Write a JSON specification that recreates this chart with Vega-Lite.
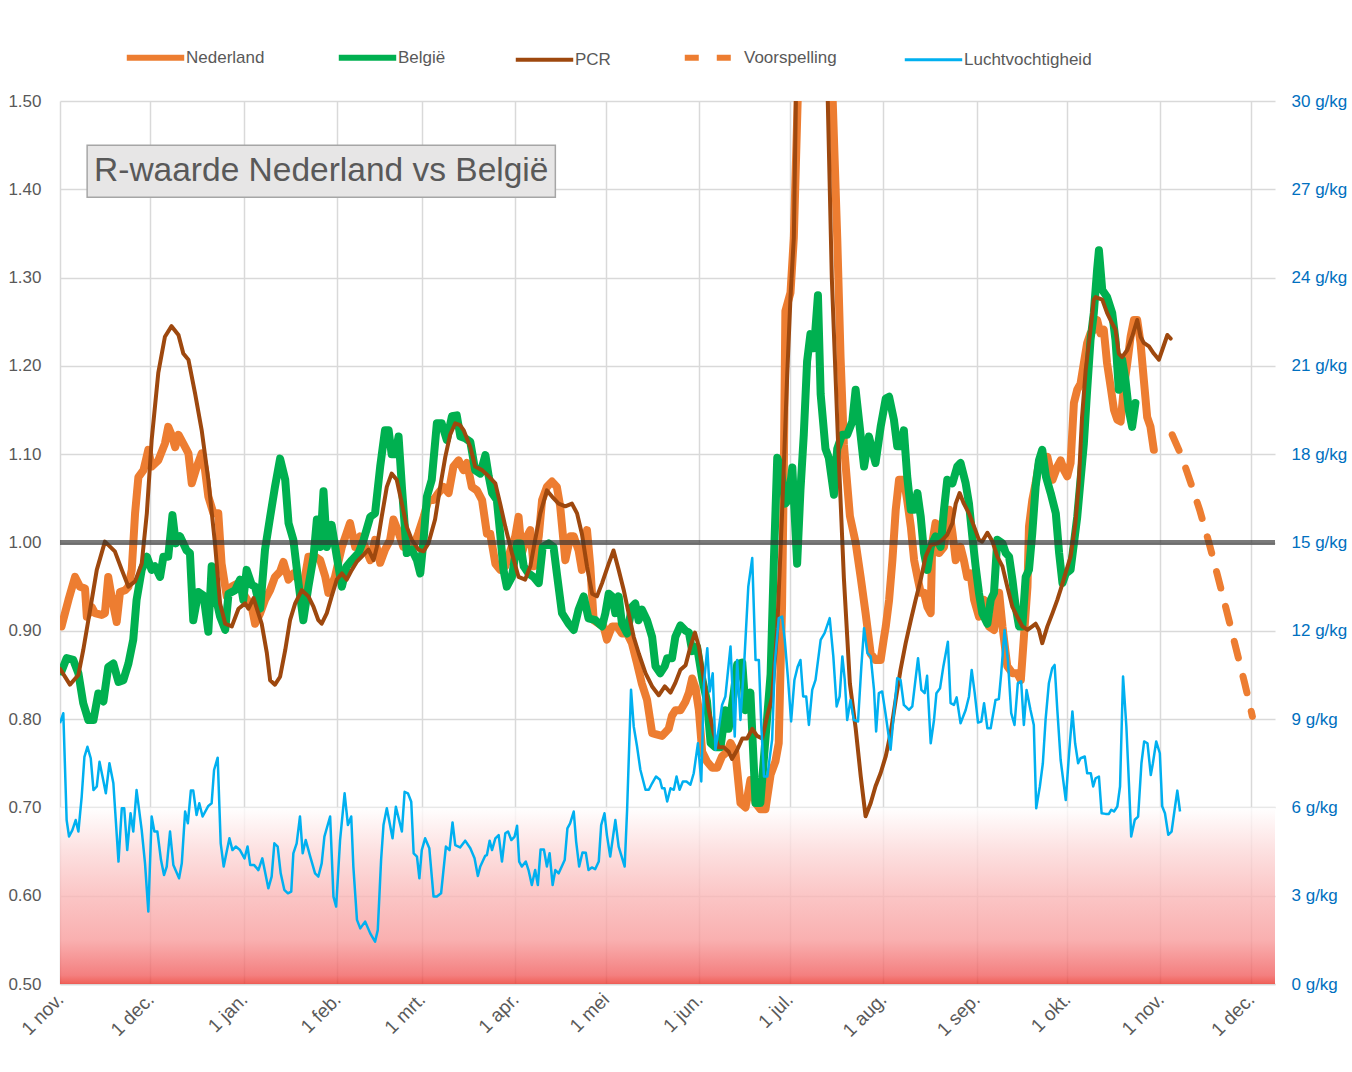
{
  "$schema": "https://vega.github.io/schema/vega-lite/v6.json",
  "width": 1215,
  "height": 883,
  "autosize": {"type": "none"},
  "padding": {"left": 60, "top": 101, "right": 77, "bottom": 88},
  "background": "white",
  "config": {"font": "Liberation Sans", "view": {"stroke": null}},
  "datasets": {
    "band": [{"x0": 0, "x1": 403, "y0": 0.5, "y1": 0.7}],
    "box": [{"x0": 9, "x1": 164.3, "y0": 1.391, "y1": 1.45, "xm": 86.65, "ym": 1.4205, "titel": "R-waarde Nederland vs België"}],
    "ref": [{"r": 1.0}],
    "nl": [
      {"dag":0.5,"r":0.905},{"dag":2.8,"r":0.935},{"dag":5,"r":0.961},{"dag":6.6,"r":0.95},{"dag":8.3,"r":0.948},{"dag":8.9,"r":0.916},{"dag":10.5,"r":0.927},{"dag":11.6,"r":0.92},{"dag":13.8,"r":0.918},{"dag":14.9,"r":0.92},{"dag":16,"r":0.961},{"dag":17.1,"r":0.939},{"dag":18.8,"r":0.91},{"dag":19.9,"r":0.944},{"dag":21.6,"r":0.946},{"dag":22.7,"r":0.95},{"dag":23.8,"r":0.969},{"dag":24.9,"r":1.033},{"dag":26,"r":1.074},{"dag":27.7,"r":1.082},{"dag":29.3,"r":1.105},{"dag":30.4,"r":1.086},{"dag":32.6,"r":1.093},{"dag":34.8,"r":1.112},{"dag":35.9,"r":1.131},{"dag":37,"r":1.122},{"dag":38.2,"r":1.108},{"dag":39.3,"r":1.122},{"dag":40.9,"r":1.112},{"dag":42.6,"r":1.101},{"dag":43.7,"r":1.067},{"dag":45.4,"r":1.086},{"dag":47,"r":1.101},{"dag":48.1,"r":1.082},{"dag":49.2,"r":1.052},{"dag":50.9,"r":1.033},{"dag":52.5,"r":1.033},{"dag":53.6,"r":0.976},{"dag":55.3,"r":0.939},{"dag":57,"r":0.95},{"dag":59.2,"r":0.954},{"dag":61.4,"r":0.939},{"dag":63.6,"r":0.927},
      {"dag":64.7,"r":0.908},{"dag":66.4,"r":0.92},{"dag":68,"r":0.935},{"dag":69.7,"r":0.946},{"dag":71.3,"r":0.961},{"dag":73,"r":0.967},{"dag":74.1,"r":0.978},{"dag":75.8,"r":0.958},{"dag":77.4,"r":0.965},{"dag":79.1,"r":0.958},{"dag":80.7,"r":0.95},{"dag":82.4,"r":0.984},{"dag":84.6,"r":0.984},{"dag":86.3,"r":0.98},{"dag":88,"r":0.961},{"dag":89,"r":0.943},{"dag":91.2,"r":0.961},{"dag":93.5,"r":0.995},{"dag":95.1,"r":1.011},{"dag":96.2,"r":1.022},{"dag":97.9,"r":0.995},{"dag":99.5,"r":1.007},{"dag":101.2,"r":0.995},{"dag":102.9,"r":0.98},{"dag":104.5,"r":1.003},{"dag":106.2,"r":0.977},{"dag":107.8,"r":0.992},{"dag":109.5,"r":1.003},{"dag":110.6,"r":1.026},{"dag":112.3,"r":1.011},{"dag":113.9,"r":0.995},{"dag":115.6,"r":1.003},{"dag":117.2,"r":0.995},{"dag":118.9,"r":1.011},{"dag":120.6,"r":1.029},{"dag":122.2,"r":1.048},{"dag":123.9,"r":1.048},{"dag":125.5,"r":1.056},{"dag":127.2,"r":1.063},{"dag":128.9,"r":1.056},{"dag":130.5,"r":1.086},{"dag":132.2,"r":1.093},{"dag":133.8,"r":1.082},
      {"dag":135,"r":1.09},{"dag":136.6,"r":1.063},{"dag":138.3,"r":1.059},{"dag":140,"r":1.048},{"dag":141.6,"r":1.01},{"dag":142.7,"r":1.01},{"dag":144.4,"r":0.976},{"dag":146,"r":0.969},{"dag":147.7,"r":0.973},{"dag":149.4,"r":0.991},{"dag":151,"r":1.007},{"dag":152.1,"r":1.029},{"dag":153.2,"r":0.988},{"dag":154.9,"r":1.007},{"dag":156,"r":1.014},{"dag":157.1,"r":0.973},{"dag":158.8,"r":1.007},{"dag":159.9,"r":1.048},{"dag":161.5,"r":1.063},{"dag":163.2,"r":1.069},{"dag":164.8,"r":1.063},{"dag":165.9,"r":1.041},{"dag":167.6,"r":0.98},{"dag":169.3,"r":1.007},{"dag":170.4,"r":1.007},{"dag":172,"r":0.991},{"dag":173.1,"r":0.969},{"dag":174.8,"r":1.014},{"dag":175.9,"r":0.973},{"dag":177,"r":0.912},{"dag":178.7,"r":0.908},{"dag":180.3,"r":0.905},{"dag":181.4,"r":0.89},{"dag":183.1,"r":0.905},{"dag":184.8,"r":0.905},{"dag":186.4,"r":0.897},{"dag":188.1,"r":0.897},{"dag":189.7,"r":0.886},{"dag":191.4,"r":0.863},{"dag":193,"r":0.84},{"dag":194.7,"r":0.822},{"dag":196.4,"r":0.784},
      {"dag":197.5,"r":0.783},{"dag":199.7,"r":0.781},{"dag":201.9,"r":0.789},{"dag":203,"r":0.804},{"dag":204.1,"r":0.81},{"dag":205.8,"r":0.81},{"dag":207.5,"r":0.82},{"dag":208.6,"r":0.83},{"dag":209.7,"r":0.846},{"dag":210.8,"r":0.835},{"dag":211.9,"r":0.81},{"dag":213,"r":0.763},{"dag":214.6,"r":0.752},{"dag":216.3,"r":0.745},{"dag":218,"r":0.745},{"dag":219.6,"r":0.758},{"dag":221.3,"r":0.763},{"dag":222.4,"r":0.773},{"dag":224,"r":0.763},{"dag":225.7,"r":0.705},{"dag":227.4,"r":0.7},{"dag":229,"r":0.731},{"dag":230.7,"r":0.705},{"dag":232.3,"r":0.698},{"dag":234,"r":0.698},{"dag":235.7,"r":0.737},{"dag":237.3,"r":0.752},{"dag":238.4,"r":0.773},{"dag":239.5,"r":0.929},{"dag":240.1,"r":1.085},{"dag":240.6,"r":1.262},{"dag":242.3,"r":1.283},{"dag":243.4,"r":1.345},{"dag":250,"r":2.15},{"dag":257.8,"r":1.345},{"dag":258.9,"r":1.21},{"dag":260,"r":1.111},{"dag":262,"r":1.03},{"dag":263.9,"r":1.0},{"dag":265.6,"r":0.96},{"dag":267.2,"r":0.92},{"dag":268.9,"r":0.874},{"dag":270.5,"r":0.867},{"dag":272.2,"r":0.867},{"dag":273.2,"r":0.89},{"dag":273.9,"r":0.905},{"dag":275,"r":0.935},{"dag":276.1,"r":0.98},{"dag":277.2,"r":1.037},{"dag":278.3,"r":1.071},{"dag":279.9,"r":1.071},{"dag":281,"r":1.048},{"dag":282.2,"r":1.018},{"dag":283.3,"r":0.98},{"dag":284.4,"r":0.961},{"dag":285.5,"r":0.943},{"dag":286.6,"r":0.943},{"dag":287.7,"r":0.927},{"dag":288.8,"r":0.92},{"dag":289.3,"r":0.999},{"dag":290.4,"r":1.022},{"dag":291.6,"r":0.988},{"dag":293.2,"r":0.995},{"dag":294.9,"r":1.037},{"dag":296,"r":1.011},{"dag":297.1,"r":0.98},{"dag":298.7,"r":0.995},{"dag":299.8,"r":0.98},{"dag":300.9,"r":0.961},{"dag":302,"r":0.965},{"dag":303.2,"r":0.935},{"dag":304.8,"r":0.916},{"dag":306.5,"r":0.935},{"dag":308.1,"r":0.905},{"dag":309.8,"r":0.901},{"dag":311.5,"r":0.943},{"dag":312.6,"r":0.905},{"dag":314.2,"r":0.86},{"dag":315.9,"r":0.852},{"dag":317.5,"r":0.852},{"dag":318.7,"r":0.844},{"dag":319.8,"r":0.897},{"dag":320.9,"r":0.95},{"dag":321.4,"r":1.018},{"dag":322.5,"r":1.048},{"dag":323.6,"r":1.067},{"dag":324.7,"r":1.09},{"dag":325.8,"r":1.093},{"dag":327.5,"r":1.097},{"dag":329.2,"r":1.071},{"dag":330.8,"r":1.086},{"dag":331.9,"r":1.093},{"dag":333,"r":1.082},{"dag":334.1,"r":1.075},{"dag":335.2,"r":1.09},{"dag":336.3,"r":1.158},{"dag":337.4,"r":1.173},{"dag":338.5,"r":1.18},{"dag":339.6,"r":1.203},{"dag":340.7,"r":1.226},{"dag":341.8,"r":1.237},{"dag":342.9,"r":1.241},{"dag":344,"r":1.252},{"dag":345.1,"r":1.237},{"dag":346.2,"r":1.241},{"dag":347.3,"r":1.203},{"dag":348.5,"r":1.176},{"dag":349.6,"r":1.15},{"dag":350.7,"r":1.139},{"dag":351.8,"r":1.137},{"dag":352.9,"r":1.176},{"dag":354,"r":1.203},{"dag":355.1,"r":1.233},{"dag":356.2,"r":1.252},{"dag":357.3,"r":1.252},{"dag":358.4,"r":1.226},{"dag":359.5,"r":1.184},{"dag":360.6,"r":1.142},{"dag":361.7,"r":1.131},{"dag":362.8,"r":1.105}
    ],
    "be": [
      {"dag":0.5,"r":0.854},{"dag":2.2,"r":0.869},{"dag":4.4,"r":0.867},{"dag":6.1,"r":0.852},{"dag":7.7,"r":0.818},{"dag":9.4,"r":0.799},{"dag":11.1,"r":0.799},{"dag":12.7,"r":0.829},{"dag":14.4,"r":0.82},{"dag":16,"r":0.859},{"dag":17.7,"r":0.863},{"dag":19.4,"r":0.842},{"dag":21,"r":0.844},{"dag":22.7,"r":0.863},{"dag":24.3,"r":0.89},{"dag":25.4,"r":0.935},{"dag":27.1,"r":0.969},{"dag":28.8,"r":0.984},{"dag":30.4,"r":0.969},{"dag":31.5,"r":0.973},{"dag":33.2,"r":0.961},{"dag":34.3,"r":0.984},{"dag":35.9,"r":0.984},{"dag":37.3,"r":1.031},{"dag":38.4,"r":0.999},{"dag":39.8,"r":1.007},{"dag":42,"r":0.991},{"dag":43.1,"r":0.988},{"dag":44.2,"r":0.912},{"dag":45.9,"r":0.944},{"dag":47.6,"r":0.94},{"dag":49.2,"r":0.899},{"dag":50.3,"r":0.973},{"dag":51.4,"r":0.942},{"dag":53.1,"r":0.916},{"dag":54.8,"r":0.901},{"dag":55.9,"r":0.942},{"dag":58.1,"r":0.946},{"dag":59.7,"r":0.958},{"dag":60.8,"r":0.935},{"dag":61.9,"r":0.969},{"dag":63.6,"r":0.952},
      {"dag":64.7,"r":0.95},{"dag":66.4,"r":0.925},{"dag":68,"r":0.992},{"dag":69.7,"r":1.029},{"dag":71.3,"r":1.063},{"dag":73,"r":1.095},{"dag":74.7,"r":1.071},{"dag":75.8,"r":1.022},{"dag":77.4,"r":1.003},{"dag":79.1,"r":0.954},{"dag":80.7,"r":0.912},{"dag":82.4,"r":0.95},{"dag":84.1,"r":0.984},{"dag":85.2,"r":1.026},{"dag":86.3,"r":0.995},{"dag":87.4,"r":1.058},{"dag":88.5,"r":0.995},{"dag":90.1,"r":1.02},{"dag":91.8,"r":0.984},{"dag":93.5,"r":0.95},{"dag":95.1,"r":0.973},{"dag":96.8,"r":0.98},{"dag":99,"r":0.988},{"dag":100.7,"r":1.003},{"dag":102.9,"r":1.029},{"dag":104.5,"r":1.033},{"dag":106.2,"r":1.086},{"dag":107.8,"r":1.127},{"dag":109,"r":1.127},{"dag":110,"r":1.1},{"dag":111.2,"r":1.1},{"dag":112.3,"r":1.12},{"dag":113.4,"r":1.063},{"dag":115,"r":0.988},{"dag":116.7,"r":0.992},{"dag":118.4,"r":0.98},{"dag":119.5,"r":0.965},{"dag":120.6,"r":1.003},{"dag":121.7,"r":1.052},{"dag":123.3,"r":1.071},{"dag":125,"r":1.135},{"dag":126.6,"r":1.135},{"dag":128.3,"r":1.116},{"dag":130,"r":1.143},{"dag":131.6,"r":1.144},
      {"dag":132.8,"r":1.12},{"dag":134.4,"r":1.118},{"dag":136.1,"r":1.114},{"dag":137.7,"r":1.082},{"dag":139.4,"r":1.078},{"dag":141.1,"r":1.099},{"dag":142.2,"r":1.075},{"dag":143.3,"r":1.056},{"dag":144.9,"r":1.048},{"dag":146,"r":1.01},{"dag":147.1,"r":0.969},{"dag":148.2,"r":0.95},{"dag":149.9,"r":0.961},{"dag":151.6,"r":0.999},{"dag":152.7,"r":0.999},{"dag":153.8,"r":0.973},{"dag":155.4,"r":0.965},{"dag":157.1,"r":0.961},{"dag":158.8,"r":0.954},{"dag":160.1,"r":0.995},{"dag":162.1,"r":0.999},{"dag":163.7,"r":0.995},{"dag":164.8,"r":0.965},{"dag":166.5,"r":0.92},{"dag":168.7,"r":0.908},{"dag":170.4,"r":0.901},{"dag":172,"r":0.924},{"dag":173.7,"r":0.939},{"dag":175.3,"r":0.914},{"dag":177.6,"r":0.912},{"dag":179.8,"r":0.905},{"dag":180.9,"r":0.92},{"dag":182,"r":0.942},{"dag":183.1,"r":0.939},{"dag":184.2,"r":0.92},{"dag":185.3,"r":0.939},{"dag":186.4,"r":0.908},{"dag":188.1,"r":0.897},{"dag":189.7,"r":0.927},{"dag":190.8,"r":0.931},{"dag":191.9,"r":0.912},{"dag":193,"r":0.924},{"dag":194.7,"r":0.912},{"dag":196.4,"r":0.893},
      {"dag":197.5,"r":0.86},{"dag":199.1,"r":0.852},{"dag":200.6,"r":0.86},{"dag":201.4,"r":0.869},{"dag":203,"r":0.869},{"dag":204.1,"r":0.893},{"dag":205.8,"r":0.906},{"dag":207.5,"r":0.9},{"dag":208.6,"r":0.898},{"dag":209.7,"r":0.877},{"dag":211.3,"r":0.882},{"dag":213,"r":0.846},{"dag":214.6,"r":0.82},{"dag":215.8,"r":0.773},{"dag":217.4,"r":0.768},{"dag":219.1,"r":0.768},{"dag":220.7,"r":0.81},{"dag":221.8,"r":0.789},{"dag":223.5,"r":0.83},{"dag":224.6,"r":0.862},{"dag":226.3,"r":0.864},{"dag":227.4,"r":0.81},{"dag":229,"r":0.83},{"dag":230.7,"r":0.705},{"dag":232.3,"r":0.705},{"dag":234,"r":0.778},{"dag":235.7,"r":0.851},{"dag":236.8,"r":0.981},{"dag":237.9,"r":1.096},{"dag":239,"r":1.085},{"dag":240.6,"r":1.044},{"dag":241.7,"r":1.049},{"dag":242.9,"r":1.085},{"dag":244.5,"r":0.976},{"dag":245.6,"r":1.059},{"dag":246.7,"r":1.122},{"dag":247.8,"r":1.205},{"dag":248.9,"r":1.236},{"dag":250.1,"r":1.22},{"dag":251.4,"r":1.28},{"dag":252.3,"r":1.168},{"dag":253.9,"r":1.106},{"dag":255,"r":1.096},{"dag":256.7,"r":1.054},{"dag":257.8,"r":1.106},{"dag":259.4,"r":1.122},{"dag":261.1,"r":1.122},{"dag":262.8,"r":1.137},{"dag":263.9,"r":1.173},
      {"dag":265.6,"r":1.12},{"dag":266.7,"r":1.086},{"dag":268.3,"r":1.12},{"dag":269.4,"r":1.105},{"dag":270.5,"r":1.09},{"dag":272.2,"r":1.131},{"dag":273.9,"r":1.163},{"dag":275,"r":1.165},{"dag":276.6,"r":1.139},{"dag":277.7,"r":1.109},{"dag":278.8,"r":1.109},{"dag":279.9,"r":1.127},{"dag":281,"r":1.075},{"dag":282.2,"r":1.037},{"dag":283.3,"r":1.037},{"dag":284.4,"r":1.056},{"dag":285.5,"r":1.029},{"dag":286.6,"r":0.988},{"dag":287.7,"r":0.969},{"dag":288.8,"r":0.995},{"dag":290.4,"r":1.007},{"dag":292.1,"r":0.995},{"dag":293.2,"r":1.037},{"dag":294.3,"r":1.071},{"dag":296,"r":1.067},{"dag":297.6,"r":1.086},{"dag":298.7,"r":1.09},{"dag":300.4,"r":1.067},{"dag":301.5,"r":1.044},{"dag":302.6,"r":1.007},{"dag":303.7,"r":0.973},{"dag":304.8,"r":0.943},{"dag":305.9,"r":0.92},{"dag":307.6,"r":0.908},{"dag":308.7,"r":0.935},{"dag":309.8,"r":0.943},{"dag":310.9,"r":1.003},{"dag":312.6,"r":0.999},{"dag":313.7,"r":0.988},{"dag":314.8,"r":0.984},{"dag":315.9,"r":0.958},{"dag":317,"r":0.927},{"dag":318.1,"r":0.905},{"dag":319.2,"r":0.905},{"dag":320.3,"r":0.961},{"dag":321.4,"r":0.969},{"dag":322.5,"r":1.011},{"dag":323.6,"r":1.063},{"dag":324.7,"r":1.093},{"dag":325.8,"r":1.105},{"dag":327,"r":1.075},{"dag":328.6,"r":1.056},{"dag":330.3,"r":1.033},{"dag":331.4,"r":0.988},{"dag":332.5,"r":0.954},{"dag":333.6,"r":0.965},{"dag":335.2,"r":0.969},{"dag":336.3,"r":0.999},{"dag":337.4,"r":1.029},{"dag":338.5,"r":1.071},{"dag":339.6,"r":1.112},{"dag":340.7,"r":1.173},{"dag":341.8,"r":1.229},{"dag":342.9,"r":1.26},{"dag":344,"r":1.309},{"dag":344.6,"r":1.331},{"dag":345.7,"r":1.286},{"dag":347.3,"r":1.278},{"dag":349,"r":1.26},{"dag":350.1,"r":1.229},{"dag":351.2,"r":1.173},{"dag":352.3,"r":1.207},{"dag":353.4,"r":1.184},{"dag":354.5,"r":1.15},{"dag":355.6,"r":1.131},{"dag":356.7,"r":1.158}
    ],
    "pcr": [
      {"dag":0,"r":0.857},{"dag":3.3,"r":0.839},{"dag":6.1,"r":0.85},{"dag":7.7,"r":0.878},{"dag":10,"r":0.924},{"dag":12.2,"r":0.969},{"dag":14.9,"r":1.001},{"dag":18.2,"r":0.99},{"dag":20.5,"r":0.969},{"dag":22.7,"r":0.95},{"dag":24.9,"r":0.956},{"dag":27.1,"r":0.976},{"dag":28.8,"r":1.033},{"dag":30.4,"r":1.116},{"dag":32.6,"r":1.192},{"dag":34.8,"r":1.233},{"dag":37,"r":1.245},{"dag":39.3,"r":1.235},{"dag":40.9,"r":1.214},{"dag":42.6,"r":1.207},{"dag":44.8,"r":1.169},{"dag":47,"r":1.127},{"dag":49.2,"r":1.071},{"dag":51.4,"r":0.999},{"dag":53.1,"r":0.931},{"dag":54.8,"r":0.908},{"dag":57,"r":0.905},{"dag":59.2,"r":0.925},{"dag":61.4,"r":0.931},{"dag":62.5,"r":0.925},{"dag":64.2,"r":0.937},
      {"dag":66.9,"r":0.908},{"dag":68.6,"r":0.875},{"dag":69.7,"r":0.844},{"dag":71.3,"r":0.839},{"dag":73,"r":0.848},{"dag":74.7,"r":0.878},{"dag":76.3,"r":0.912},{"dag":78,"r":0.931},{"dag":80.2,"r":0.946},{"dag":82.4,"r":0.939},{"dag":84.1,"r":0.927},{"dag":85.7,"r":0.912},{"dag":86.8,"r":0.908},{"dag":88.5,"r":0.92},{"dag":90.1,"r":0.939},{"dag":91.8,"r":0.958},{"dag":93.5,"r":0.965},{"dag":95.1,"r":0.958},{"dag":96.8,"r":0.969},{"dag":98.4,"r":0.978},{"dag":100.1,"r":0.984},{"dag":102.3,"r":0.992},{"dag":104,"r":0.98},{"dag":105.1,"r":0.995},{"dag":106.7,"r":1.029},{"dag":108.4,"r":1.063},{"dag":110,"r":1.078},{"dag":111.7,"r":1.071},{"dag":113.4,"r":1.044},{"dag":115,"r":1.018},{"dag":116.7,"r":1.003},{"dag":118.9,"r":0.992},{"dag":120.6,"r":0.99},{"dag":122.2,"r":0.999},{"dag":124.4,"r":1.026},{"dag":126.1,"r":1.063},{"dag":127.8,"r":1.097},{"dag":129.4,"r":1.122},{"dag":131.1,"r":1.135},{"dag":132.7,"r":1.133},
      {"dag":133.9,"r":1.127},{"dag":136.1,"r":1.108},{"dag":137.7,"r":1.086},{"dag":140,"r":1.082},{"dag":142.2,"r":1.075},{"dag":144.4,"r":1.067},{"dag":146,"r":1.044},{"dag":147.7,"r":1.018},{"dag":149.9,"r":0.988},{"dag":152.1,"r":0.961},{"dag":154.3,"r":0.958},{"dag":156,"r":0.973},{"dag":157.6,"r":1.003},{"dag":159.3,"r":1.033},{"dag":161.5,"r":1.059},{"dag":163.2,"r":1.052},{"dag":165.4,"r":1.044},{"dag":167.6,"r":1.041},{"dag":169.8,"r":1.044},{"dag":171.5,"r":1.033},{"dag":173.1,"r":1.01},{"dag":174.8,"r":0.973},{"dag":176.5,"r":0.942},{"dag":178.1,"r":0.939},{"dag":179.8,"r":0.954},{"dag":182,"r":0.976},{"dag":183.6,"r":0.991},{"dag":185.3,"r":0.969},{"dag":187,"r":0.946},{"dag":188.6,"r":0.92},{"dag":190.3,"r":0.893},{"dag":192,"r":0.874},{"dag":194.2,"r":0.852},{"dag":196.4,"r":0.837},{"dag":198.6,"r":0.827},{"dag":200.6,"r":0.837},
      {"dag":202.5,"r":0.83},{"dag":204.1,"r":0.841},{"dag":205.8,"r":0.856},{"dag":207.5,"r":0.861},{"dag":209.1,"r":0.882},{"dag":210.6,"r":0.898},{"dag":211.9,"r":0.882},{"dag":213.5,"r":0.846},{"dag":215.2,"r":0.81},{"dag":216.9,"r":0.783},{"dag":218.5,"r":0.768},{"dag":220.2,"r":0.768},{"dag":221.8,"r":0.763},{"dag":222.9,"r":0.755},{"dag":224.6,"r":0.765},{"dag":226.3,"r":0.778},{"dag":227.9,"r":0.778},{"dag":229.6,"r":0.789},{"dag":231.2,"r":0.781},{"dag":232.9,"r":0.778},{"dag":234.6,"r":0.804},{"dag":236.2,"r":0.825},{"dag":237.9,"r":0.903},{"dag":239.5,"r":1.033},{"dag":241.2,"r":1.189},{"dag":242.3,"r":1.278},{"dag":243.4,"r":1.345},{"dag":248.3,"r":2.45},{"dag":256,"r":1.3},{"dag":258,"r":1.12},{"dag":260,"r":0.96},{"dag":262,"r":0.84},{"dag":263.9,"r":0.79},{"dag":265.6,"r":0.735},{"dag":267.2,"r":0.69},{"dag":268.9,"r":0.705},{"dag":270.5,"r":0.724},{"dag":272.2,"r":0.739},{"dag":273.9,"r":0.758},{"dag":275.5,"r":0.784},{"dag":277.2,"r":0.822},{"dag":278.8,"r":0.856},{"dag":280.5,"r":0.886},{"dag":282.2,"r":0.912},{"dag":283.8,"r":0.935},{"dag":285.5,"r":0.958},{"dag":287.1,"r":0.984},{"dag":288.8,"r":0.997},{"dag":291,"r":0.999},{"dag":292.7,"r":1.003},{"dag":294.3,"r":1.009},{"dag":296,"r":1.022},{"dag":297.1,"r":1.044},{"dag":298.4,"r":1.056},{"dag":299.8,"r":1.044},{"dag":301.5,"r":1.033},{"dag":303.2,"r":1.018},{"dag":304.8,"r":1.003},{"dag":305.9,"r":1.001},{"dag":307.6,"r":1.011},{"dag":309.3,"r":1.001},{"dag":310.9,"r":0.984},{"dag":312.6,"r":0.973},{"dag":314.2,"r":0.95},{"dag":315.9,"r":0.927},{"dag":317.5,"r":0.916},{"dag":319.2,"r":0.905},{"dag":320.9,"r":0.901},{"dag":322.5,"r":0.905},{"dag":323.6,"r":0.908},{"dag":324.7,"r":0.901},{"dag":325.8,"r":0.886},{"dag":327.5,"r":0.905},{"dag":329.2,"r":0.92},{"dag":330.8,"r":0.935},{"dag":332.2,"r":0.95},{"dag":333.5,"r":0.965},{"dag":335.2,"r":0.984},{"dag":336.8,"r":1.022},{"dag":337.9,"r":1.067},{"dag":339,"r":1.142},{"dag":340.2,"r":1.195},{"dag":341.8,"r":1.241},{"dag":342.9,"r":1.275},{"dag":343.5,"r":1.278},{"dag":345.7,"r":1.275},{"dag":347.3,"r":1.26},{"dag":349,"r":1.248},{"dag":350.1,"r":1.241},{"dag":351.2,"r":1.214},{"dag":352.3,"r":1.21},{"dag":354,"r":1.218},{"dag":355.6,"r":1.233},{"dag":357.3,"r":1.252},{"dag":358.4,"r":1.233},{"dag":359.5,"r":1.226},{"dag":361.2,"r":1.222},{"dag":362.8,"r":1.214},{"dag":364.5,"r":1.207},{"dag":365.6,"r":1.218},{"dag":367.3,"r":1.235},{"dag":368.4,"r":1.231}
    ],
    "vs": [
      {"dag":368.9,"r":1.122},{"dag":372,"r":1.098},{"dag":375,"r":1.068},{"dag":378,"r":1.037},{"dag":381,"r":1.001},{"dag":384,"r":0.962},{"dag":387,"r":0.922},{"dag":390,"r":0.881},{"dag":393,"r":0.84},{"dag":395.5,"r":0.803}
    ],
    "lv": [
      {"dag":0,"g":8.86},{"dag":1.1,"g":9.2},{"dag":2.2,"g":5.57},{"dag":3,"g":5.01},{"dag":4.1,"g":5.23},{"dag":5.2,"g":5.57},{"dag":6.1,"g":5.18},{"dag":7.2,"g":6.37},{"dag":8.1,"g":7.72},{"dag":9.1,"g":8.06},{"dag":10.2,"g":7.67},{"dag":11.1,"g":6.59},{"dag":12.2,"g":6.71},{"dag":13.1,"g":7.55},{"dag":14.1,"g":7.05},{"dag":15.2,"g":6.48},{"dag":16.4,"g":7.5},{"dag":17.7,"g":6.82},{"dag":19.4,"g":4.16},{"dag":20.5,"g":5.97},{"dag":21.3,"g":5.97},{"dag":22.3,"g":4.55},{"dag":23.4,"g":5.8},{"dag":24.3,"g":5.18},{"dag":25.4,"g":6.59},{"dag":27.1,"g":5.23},{"dag":28.2,"g":4.1},{"dag":29.3,"g":2.46},{"dag":30.4,"g":5.69},{"dag":31.3,"g":5.18},{"dag":32.3,"g":5.18},{"dag":33.5,"g":4.21},{"dag":34.5,"g":3.7},{"dag":35.4,"g":3.99},{"dag":36.5,"g":5.18},{"dag":37.6,"g":4.04},{"dag":39.5,"g":3.59},{"dag":40.4,"g":4.1},{"dag":41.5,"g":5.86},{"dag":42.4,"g":5.46},{"dag":43.4,"g":6.57},{"dag":44.2,"g":6.57},{"dag":45.3,"g":5.74},{"dag":46.2,"g":6.14},{"dag":47.3,"g":5.69},{"dag":49.2,"g":6.05},{"dag":50.3,"g":6.14},{"dag":51.1,"g":7.27},{"dag":52.3,"g":7.69},{"dag":53.3,"g":4.78},{"dag":54.3,"g":3.99},{"dag":55.3,"g":4.5},{"dag":56.2,"g":4.95},{"dag":57.2,"g":4.55},{"dag":58.3,"g":4.67},{"dag":59.7,"g":4.55},{"dag":61.2,"g":4.27},{"dag":62.2,"g":4.67},{"dag":63.1,"g":4.04},{"dag":64.4,"g":4.04},{"dag":65.8,"g":3.87},{"dag":67.1,"g":4.27},{"dag":69.1,"g":3.25},{"dag":70.2,"g":3.65},{"dag":71.1,"g":4.78},{"dag":72.2,"g":4.67},{"dag":73.2,"g":3.76},{"dag":74.4,"g":3.2},{"dag":75.6,"g":3.08},{"dag":76.7,"g":3.14},{"dag":77.4,"g":4.44},{"dag":78.5,"g":4.78},{"dag":79.6,"g":5.69},{"dag":80.5,"g":4.44},{"dag":81.5,"g":4.89},{"dag":83,"g":4.33},{"dag":84.6,"g":3.76},{"dag":85.7,"g":3.65},{"dag":86.8,"g":4.1},{"dag":87.7,"g":5.01},{"dag":89.6,"g":5.69},{"dag":90.7,"g":2.97},{"dag":91.6,"g":2.63},{"dag":92.9,"g":4.89},{"dag":94.4,"g":6.48},{"dag":95.5,"g":5.4},{"dag":96.6,"g":5.69},{"dag":97.3,"g":3.99},{"dag":98.5,"g":2.18},
      {"dag":99.6,"g":1.89},{"dag":101.2,"g":2.12},{"dag":102.9,"g":1.72},{"dag":104.5,"g":1.44},{"dag":105.4,"g":1.83},{"dag":106.5,"g":4.21},{"dag":107.3,"g":5.4},{"dag":108.4,"g":5.97},{"dag":110.3,"g":4.95},{"dag":111.4,"g":6.02},{"dag":113.4,"g":5.18},{"dag":114.3,"g":6.53},{"dag":115.4,"g":6.48},{"dag":116.5,"g":6.19},{"dag":117.3,"g":4.44},{"dag":118.4,"g":4.33},{"dag":119.2,"g":3.59},{"dag":120,"g":4.55},{"dag":121.1,"g":4.95},{"dag":122.5,"g":4.61},{"dag":123.9,"g":2.97},{"dag":125,"g":2.97},{"dag":126.4,"g":3.08},{"dag":128,"g":4.67},{"dag":129.2,"g":4.55},{"dag":130.2,"g":5.49},{"dag":131.1,"g":4.72},{"dag":132.7,"g":4.64},{"dag":134.4,"g":4.87},{"dag":136.1,"g":4.61},{"dag":137.5,"g":4.27},{"dag":138.6,"g":3.67},{"dag":139.4,"g":3.99},{"dag":141,"g":4.35},{"dag":141.6,"g":4.38},{"dag":142.5,"g":4.87},{"dag":143.3,"g":4.55},{"dag":144.4,"g":4.95},{"dag":145.5,"g":5.06},{"dag":146.6,"g":4.16},{"dag":147.7,"g":5.12},{"dag":148.6,"g":5.18},{"dag":149.7,"g":4.89},{"dag":150.8,"g":5.01},{"dag":151.6,"g":5.38},{"dag":152.3,"g":4.16},{"dag":153.2,"g":3.99},{"dag":154.5,"g":4.16},{"dag":155.4,"g":3.87},{"dag":156.5,"g":3.36},{"dag":157.6,"g":3.87},{"dag":158.5,"g":3.36},{"dag":159.4,"g":4.57},{"dag":160.5,"g":4.57},{"dag":161.5,"g":3.99},{"dag":162.4,"g":4.44},{"dag":163.4,"g":3.36},{"dag":164.3,"g":3.87},{"dag":165.4,"g":3.76},{"dag":166.5,"g":4.01},{"dag":167.4,"g":4.21},{"dag":168.3,"g":5.29},{"dag":169.2,"g":5.46},{"dag":170.4,"g":5.86},{"dag":171.2,"g":4.84},{"dag":172.2,"g":3.99},{"dag":173.3,"g":4.47},{"dag":174.4,"g":4.46},{"dag":175.3,"g":3.87},{"dag":176.4,"g":3.96},{"dag":177.5,"g":3.9},{"dag":178.7,"g":4.16},{"dag":179.5,"g":5.4},{"dag":180.6,"g":5.8},{"dag":181.4,"g":5.06},{"dag":182.5,"g":4.33},{"dag":184.2,"g":5.57},{"dag":185.3,"g":4.67},{"dag":187.3,"g":3.99},{"dag":188.1,"g":5.91},
      {"dag":189.4,"g":10.0},{"dag":190.3,"g":8.75},{"dag":191.4,"g":8.07},{"dag":192.5,"g":7.28},{"dag":194.2,"g":6.6},{"dag":195.3,"g":6.6},{"dag":196.4,"g":6.82},{"dag":197.7,"g":7.05},{"dag":199,"g":6.94},{"dag":199.7,"g":6.65},{"dag":200.5,"g":6.65},{"dag":201.4,"g":6.2},{"dag":202.5,"g":6.65},{"dag":203.6,"g":6.6},{"dag":204.5,"g":7.05},{"dag":205.5,"g":6.6},{"dag":206.6,"g":6.88},{"dag":207.8,"g":6.88},{"dag":209.1,"g":6.77},{"dag":210.2,"g":7.16},{"dag":211.6,"g":8.18},{"dag":212.7,"g":6.88},{"dag":213.6,"g":10.22},{"dag":214.7,"g":11.41},{"dag":215.5,"g":9.94},{"dag":216.5,"g":10.56},{"dag":217.4,"g":7.96},{"dag":218.6,"g":8.75},{"dag":219.6,"g":9.48},{"dag":220.7,"g":9.77},{"dag":222.4,"g":11.47},{"dag":223.8,"g":8.41},{"dag":224.6,"g":11.01},{"dag":225.7,"g":8.97},{"dag":227,"g":11.01},{"dag":228.3,"g":13.5},{"dag":229.6,"g":14.47},{"dag":230.7,"g":11.01},{"dag":231.8,"g":11.01},{"dag":232.6,"g":8.8},{"dag":233.5,"g":7.05},{"dag":234.6,"g":7.05},{"dag":236.2,"g":8.3},{"dag":237.1,"g":10.9},{"dag":238.4,"g":12.43},{"dag":239.5,"g":12.48},{"dag":240.4,"g":11.69},{"dag":241.5,"g":10.33},{"dag":242.5,"g":8.92},{"dag":243.6,"g":10.33},{"dag":244.7,"g":10.79},{"dag":245.6,"g":11.01},{"dag":246.5,"g":9.77},{"dag":247.5,"g":9.77},{"dag":248.4,"g":8.8},{"dag":249.5,"g":9.99},{"dag":250.6,"g":10.33},{"dag":252.3,"g":11.69},{"dag":253.6,"g":11.92},{"dag":255.3,"g":12.43},{"dag":256.5,"g":11.13},{"dag":257.6,"g":9.43},{"dag":258.6,"g":9.77},{"dag":259.5,"g":11.13},{"dag":260.3,"g":10.33},{"dag":261.1,"g":8.97},{"dag":262.2,"g":9.65},{"dag":263.3,"g":8.97},{"dag":264.7,"g":8.92},{"dag":265.8,"g":10.79},{"dag":266.7,"g":12.09},{"dag":267.8,"g":11.24},{"dag":268.9,"g":11.13},{"dag":270,"g":9.99},{"dag":270.7,"g":8.58},{"dag":271.6,"g":9.88},{"dag":272.7,"g":9.94},{"dag":273.8,"g":9.2},{"dag":275.5,"g":7.96},{"dag":276.6,"g":9.2},{"dag":277.7,"g":10.39},{"dag":278.8,"g":10.33},
      {"dag":279.9,"g":9.48},{"dag":281.6,"g":9.31},{"dag":282.7,"g":9.43},{"dag":284.6,"g":11.07},{"dag":285.7,"g":9.99},{"dag":286.8,"g":9.88},{"dag":287.6,"g":10.47},{"dag":288.8,"g":8.18},{"dag":289.9,"g":8.97},{"dag":290.7,"g":9.88},{"dag":291.9,"g":10.05},{"dag":293,"g":10.79},{"dag":294.5,"g":11.63},{"dag":295.4,"g":9.54},{"dag":296.5,"g":9.48},{"dag":297.4,"g":9.74},{"dag":298.7,"g":8.86},{"dag":300.4,"g":9.31},{"dag":301.5,"g":9.77},{"dag":302.4,"g":10.67},{"dag":303.4,"g":9.88},{"dag":304.5,"g":8.88},{"dag":305.6,"g":8.92},{"dag":306.5,"g":9.54},{"dag":307.6,"g":8.69},{"dag":308.7,"g":8.69},{"dag":310.3,"g":9.65},{"dag":311.4,"g":9.68},{"dag":312.2,"g":10.56},{"dag":313.3,"g":12.03},{"dag":314.4,"g":11.01},{"dag":315.5,"g":9.2},{"dag":316.6,"g":8.8},{"dag":317.7,"g":10.22},{"dag":318.8,"g":10.28},{"dag":319.7,"g":8.8},{"dag":320.6,"g":9.99},{"dag":321.9,"g":9.31},{"dag":323,"g":8.8},{"dag":323.8,"g":5.97},{"dag":325,"g":6.71},{"dag":326,"g":7.5},{"dag":326.9,"g":8.97},{"dag":328,"g":10.22},{"dag":329.1,"g":10.73},{"dag":329.9,"g":10.84},{"dag":330.8,"g":9.31},{"dag":331.9,"g":7.61},{"dag":333.6,"g":6.25},{"dag":334.7,"g":7.84},{"dag":335.8,"g":9.26},{"dag":336.7,"g":8.18},{"dag":337.7,"g":7.5},{"dag":338.5,"g":7.67},{"dag":339.9,"g":7.73},{"dag":340.7,"g":7.16},{"dag":341.9,"g":7.16},{"dag":342.7,"g":6.71},{"dag":343.5,"g":6.99},{"dag":344.6,"g":7.05},{"dag":345.5,"g":5.8},{"dag":346.8,"g":5.78},{"dag":347.9,"g":5.78},{"dag":348.7,"g":5.92},{"dag":349.6,"g":5.86},{"dag":350.7,"g":6.03},{"dag":351.6,"g":6.71},{"dag":352.6,"g":10.45},{"dag":353.7,"g":8.75},{"dag":354.6,"g":6.71},{"dag":355.3,"g":5.01},{"dag":356.5,"g":5.58},{"dag":357.6,"g":5.69},{"dag":358.7,"g":7.5},{"dag":359.6,"g":8.24},{"dag":360.7,"g":8.18},{"dag":361.8,"g":7.1},{"dag":362.5,"g":7.5},{"dag":363.6,"g":8.24},{"dag":364.8,"g":7.84},{"dag":365.6,"g":6.03},{"dag":366.5,"g":5.8},{"dag":367.6,"g":5.07},{"dag":368.7,"g":5.18},{"dag":369.7,"g":5.92},{"dag":370.6,"g":6.57},{"dag":371.5,"g":5.86}
    ]
  },
  "layer": [
    {
      "layer": [
        {
          "data": {"name": "band"},
          "mark": {
            "type": "rect",
            "fillOpacity": 0.8,
            "color": {
              "gradient": "linear", "x1": 0, "y1": 1, "x2": 0, "y2": 0,
              "stops": [
                {"offset": 0, "color": "#EC382E"},
                {"offset": 0.05, "color": "#F16060"},
                {"offset": 0.25, "color": "#F89C9C"},
                {"offset": 0.5, "color": "#FAB7B7"},
                {"offset": 0.75, "color": "#FCD8D8"},
                {"offset": 1, "color": "#FFFFFF"}
              ]
            }
          },
          "encoding": {
            "x": {
              "field": "x0", "type": "quantitative",
              "scale": {"domain": [0, 403], "nice": false, "zero": false},
              "axis": {
                "values": [0,30,61,92,120,151,181,212,242,273,304,334,365,395],
                "labelExpr": "['1 nov.','1 dec.','1 jan.','1 feb.','1 mrt.','1 apr.','1 mei','1 jun.','1 jul.','1 aug.','1 sep.','1 okt.','1 nov.','1 dec.'][indexof([0,30,61,92,120,151,181,212,242,273,304,334,365,395], datum.value)]",
                "labelAngle": -45, "labelAlign": "right", "labelBaseline": "middle",
                "labelFontSize": 19, "labelColor": "#595959", "labelPadding": 12,
                "labelFlush": false, "labelOverlap": false, "labelBound": false,
                "ticks": false, "domainColor": "#D9D9D9", "domainWidth": 1.5,
                "grid": true, "gridColor": "#D9D9D9", "gridWidth": 1.5, "title": null
              }
            },
            "x2": {"field": "x1"},
            "y": {
              "field": "y0", "type": "quantitative",
              "scale": {"domain": [0.5, 1.5], "nice": false, "zero": false},
              "axis": {
                "values": [0.5,0.6,0.7,0.8,0.9,1.0,1.1,1.2,1.3,1.4,1.5],
                "format": ".2f", "labelFontSize": 17, "labelColor": "#595959",
                "labelPadding": 19, "labelFlush": false, "ticks": false, "domain": false,
                "grid": true, "gridColor": "#D9D9D9", "gridWidth": 1.5, "title": null
              }
            },
            "y2": {"field": "y1"}
          }
        },
        {
          "data": {"name": "box"},
          "mark": {"type": "rect", "fill": "#E7E6E6", "stroke": "#A6A6A6", "strokeWidth": 1.5},
          "encoding": {
            "x": {"field": "x0", "type": "quantitative"},
            "x2": {"field": "x1"},
            "y": {"field": "y0", "type": "quantitative"},
            "y2": {"field": "y1"}
          }
        },
        {
          "data": {"name": "box"},
          "mark": {"type": "text", "font": "Liberation Sans", "fontSize": 33.5, "color": "#595959", "align": "center", "baseline": "middle"},
          "encoding": {
            "x": {"field": "xm", "type": "quantitative"},
            "y": {"field": "ym", "type": "quantitative"},
            "text": {"field": "titel"}
          }
        },
        {
          "data": {"name": "nl"},
          "mark": {"type": "line", "strokeWidth": 8, "strokeJoin": "round", "strokeCap": "round", "clip": true},
          "encoding": {
            "x": {"field": "dag", "type": "quantitative"},
            "y": {"field": "r", "type": "quantitative"},
            "color": {
              "datum": "Nederland", "type": "nominal",
              "scale": {
                "domain": ["Nederland", "België", "PCR", "Voorspelling", "Luchtvochtigheid"],
                "range": ["#ED7D31", "#00B050", "#9E480E", "#ED7D31", "#00B0F0"]
              },
              "legend": {
                "orient": "none", "legendX": 87, "legendY": -52, "direction": "horizontal",
                "title": null, "symbolType": "stroke", "symbolSize": 3300,
                "symbolStrokeWidth": {"expr": "datum.value === 'PCR' ? 4 : datum.value === 'Luchtvochtigheid' ? 3 : 6"},
                "symbolDash": {"expr": "datum.value === 'Voorspelling' ? [14, 18] : [1, 0]"},
                "labelFontSize": 17, "labelColor": "#595959", "labelFont": "Liberation Sans",
                "columnPadding": 61, "labelOffset": 22
              }
            }
          }
        },
        {
          "data": {"name": "be"},
          "mark": {"type": "line", "strokeWidth": 8, "strokeJoin": "round", "strokeCap": "round", "clip": true},
          "encoding": {
            "x": {"field": "dag", "type": "quantitative"},
            "y": {"field": "r", "type": "quantitative"},
            "color": {"datum": "België", "type": "nominal"}
          }
        },
        {
          "data": {"name": "pcr"},
          "mark": {"type": "line", "strokeWidth": 4, "strokeJoin": "round", "strokeCap": "round", "clip": true},
          "encoding": {
            "x": {"field": "dag", "type": "quantitative"},
            "y": {"field": "r", "type": "quantitative"},
            "color": {"datum": "PCR", "type": "nominal"}
          }
        },
        {
          "data": {"name": "vs"},
          "mark": {"type": "line", "strokeWidth": 7, "strokeCap": "round", "strokeDash": [17, 19], "clip": true},
          "encoding": {
            "x": {"field": "dag", "type": "quantitative"},
            "y": {"field": "r", "type": "quantitative"},
            "color": {"datum": "Voorspelling", "type": "nominal"}
          }
        },
        {
          "data": {"name": "ref"},
          "mark": {"type": "rule", "color": "#333333", "strokeWidth": 5, "opacity": 0.65},
          "encoding": {
            "y": {"field": "r", "type": "quantitative"}
          }
        }
      ]
    },
    {
      "data": {"name": "lv"},
      "mark": {"type": "line", "strokeWidth": 2.5, "strokeJoin": "round", "clip": true},
      "encoding": {
        "x": {"field": "dag", "type": "quantitative"},
        "y": {
          "field": "g", "type": "quantitative",
          "scale": {"domain": [0, 30], "nice": false, "zero": false},
          "axis": {
            "orient": "right", "values": [0,3,6,9,12,15,18,21,24,27,30],
            "labelExpr": "datum.value + ' g/kg'", "labelFontSize": 17, "labelColor": "#0070C0",
            "labelPadding": 16, "labelFlush": false, "ticks": false, "domain": false, "grid": false, "title": null
          }
        },
        "color": {"datum": "Luchtvochtigheid", "type": "nominal"}
      }
    }
  ],
  "resolve": {"scale": {"y": "independent"}}
}
